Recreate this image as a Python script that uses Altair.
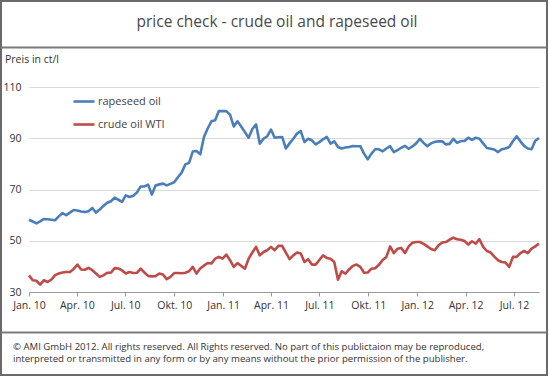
import altair as alt
import pandas as pd

# ---------------- data (weekly) ----------------
start_date = "2010-01-01"
series_names = ["rapeseed oil", "crude oil WTI"]
series_colors = ["#4A7EBB", "#BE4B48"]

rapeseed = [
    58.2, 57.5, 56.8, 57.6, 58.5, 58.4, 58.2, 58.0, 59.5, 60.8,
    60.0, 61.0, 62.0, 61.8, 61.4, 61.2, 61.5, 62.8, 61.0, 62.2,
    63.6, 64.8, 65.4, 66.8, 66.0, 65.2, 67.7, 67.1, 67.6, 68.8,
    71.2, 71.2, 71.9, 68.0, 71.6, 72.0, 72.3, 71.6, 72.2, 72.8,
    74.8, 76.6, 79.8, 80.4, 84.8, 85.0, 83.7, 90.5, 93.8, 96.6,
    97.0, 100.6, 100.6, 100.6, 99.2, 94.6, 96.6, 94.6, 92.4, 90.2,
    93.6, 95.4, 87.9, 89.8, 90.8, 93.4, 90.2, 90.4, 90.5, 86.0,
    88.0, 89.8, 91.8, 92.8, 88.5, 89.8, 89.2, 87.6, 88.5, 89.6,
    90.5, 87.9, 88.8, 86.6, 86.0, 86.4, 86.6, 87.0, 86.9, 86.9,
    84.0, 81.8, 84.0, 85.7, 85.7, 84.9, 86.0, 86.9, 84.6, 85.4,
    86.3, 87.0, 85.9, 86.8, 88.0, 89.8, 88.2, 86.9, 88.0, 88.6,
    88.8, 88.8, 87.6, 87.8, 89.8, 88.2, 88.9, 88.9, 90.2, 89.4,
    90.2, 89.8, 88.0, 86.2, 85.9, 85.6, 84.6, 85.7, 86.0, 86.6,
    88.8, 90.8, 88.8, 87.0, 86.0, 85.7, 89.0, 90.1,
]
crude = [
    36.5, 34.6, 34.4, 32.9, 34.6, 33.9, 34.8, 36.6, 37.2, 37.6,
    37.8, 37.8, 39.0, 40.7, 38.8, 38.7, 39.4, 38.5, 37.2, 35.9,
    36.5, 37.5, 37.5, 39.3, 39.2, 38.4, 37.2, 37.8, 37.4, 37.5,
    39.1, 37.6, 36.3, 36.1, 36.2, 37.2, 36.8, 35.0, 35.9, 37.4,
    37.4, 37.3, 37.5, 38.1, 39.8, 37.2, 39.2, 40.3, 41.3, 41.1,
    43.0, 43.7, 43.0, 44.6, 42.4, 39.8, 41.3, 40.2, 39.1, 43.0,
    45.4, 47.6, 44.3, 45.6, 46.3, 47.6, 46.3, 48.0, 48.0, 45.4,
    42.8, 44.3, 45.4, 45.0, 41.7, 42.8, 40.7, 40.7, 42.5, 44.3,
    43.3, 43.0, 41.7, 34.8, 38.1, 37.2, 38.8, 40.2, 40.7, 39.8,
    37.5, 37.6, 39.1, 39.3, 40.6, 42.5, 43.7, 47.8, 45.2, 46.9,
    47.2, 45.2, 47.8, 49.2, 49.5, 49.5, 48.8, 47.8, 46.8, 46.3,
    48.2, 49.3, 49.5, 50.4, 51.2, 50.6, 50.4, 49.9, 48.5, 49.8,
    48.9, 50.6, 47.6, 46.0, 45.4, 43.8, 42.4, 41.7, 41.5, 39.8,
    43.7, 43.7, 45.2, 46.0, 45.2, 46.9, 47.8, 48.9,
]

y_ticks = [30, 50, 70, 90, 110]
tick_dates = ["2010-01-01", "2010-04-01", "2010-07-01", "2010-10-01",
              "2011-01-01", "2011-04-01", "2011-07-01", "2011-10-01",
              "2012-01-01", "2012-04-01", "2012-07-01"]
tick_labels = ["Jan. 10", "Apr. 10", "Jul. 10", "Okt. 10",
               "Jan. 11", "Apr. 11", "Jul. 11", "Okt. 11",
               "Jan. 12", "Apr. 12", "Jul. 12"]

title_text = "price check - crude oil and rapeseed oil"
unit_text = "Preis in ct/l"
footer_lines = [
    "\u00a9 AMI GmbH 2012.  All rights reserved.  All Rights reserved. No part of this publictaion may be reproduced,",
    "interpreted or transmitted in any form or by any means without  the prior permission of the publisher.",
]

# ---------------- build table ----------------
dates = pd.date_range(start_date, periods=len(rapeseed), freq="7D")
date_str = [d.strftime("%Y-%m-%d") for d in dates]
df = pd.DataFrame({
    "date": date_str * 2,
    "value": rapeseed + crude,
    "series": [series_names[0]] * len(rapeseed) + [series_names[1]] * len(crude),
})


def dt(s):
    y, m, d = (int(p) for p in s.split("-"))
    return alt.DateTime(year=y, month=m, date=d, utc=True)


label_map = ", ".join(f"'{d[:7]}': '{l}'" for d, l in zip(tick_dates, tick_labels))
label_expr = "({" + label_map + "})[utcFormat(datum.value, '%Y-%m')]"

FONT = "Open Sans"
W, H = 510, 205
PL, PT = 29, 87
TOTAL_W, TOTAL_H = 549, 376

lines = alt.Chart(df).mark_line(strokeWidth=2.6, strokeJoin="round").encode(
    x=alt.X("date:T",
            scale=alt.Scale(type="utc", domain=[dt(date_str[0]), dt(date_str[-1])], nice=False),
            axis=alt.Axis(values=[dt(s) for s in tick_dates], labelExpr=label_expr,
                          title=None, grid=False, domainColor="#9a9a9a", tickColor="#9a9a9a",
                          tickSize=4, labelFont=FONT, labelFontSize=10.5, labelColor="#333333",
                          labelPadding=4, labelFlush=False, labelOverlap=False)),
    y=alt.Y("value:Q",
            scale=alt.Scale(domain=[y_ticks[0], y_ticks[-1]], nice=False, zero=False),
            axis=alt.Axis(values=y_ticks, title=None, domain=False, ticks=False, grid=True,
                          gridColor="#d9d9d9", labelFont=FONT, labelFontSize=10.5,
                          labelColor="#333333", labelPadding=8)),
    color=alt.Color("series:N",
                    scale=alt.Scale(domain=series_names, range=series_colors),
                    legend=alt.Legend(orient="none", legendX=43, legendY=2.5, title=None,
                                      symbolType="stroke", symbolSize=441, symbolStrokeWidth=2.6,
                                      labelFont=FONT, labelFontSize=11, labelColor="#444444",
                                      labelOffset=2, rowPadding=5, padding=0)),
    detail="series:N",
)

one = pd.DataFrame({"k": [0]})

frame = alt.Chart(one).mark_rect(fill=None, stroke="#6a6a6a", strokeWidth=2).encode(
    x=alt.value(1 - PL), x2=alt.value(547 - PL),
    y=alt.value(1 - PT), y2=alt.value(375 - PT),
)
sep1 = alt.Chart(one).mark_rule(stroke="#7a7a7a", strokeWidth=2).encode(
    x=alt.value(1 - PL), x2=alt.value(547 - PL), y=alt.value(47.5 - PT),
)
sep2 = alt.Chart(one).mark_rule(stroke="#7a7a7a", strokeWidth=2).encode(
    x=alt.value(1 - PL), x2=alt.value(547 - PL), y=alt.value(332.5 - PT),
)
title = alt.Chart(one).mark_text(font=FONT, fontSize=15.5, color="#4a4a4a",
                                 align="center", baseline="middle").encode(
    x=alt.value(277 - PL), y=alt.value(22 - PT), text=alt.value(title_text),
)
unit = alt.Chart(one).mark_text(font=FONT, fontSize=10.5, color="#333333",
                                align="left", baseline="middle").encode(
    x=alt.value(5 - PL), y=alt.value(60 - PT), text=alt.value(unit_text),
)
footer = alt.Chart(one).mark_text(font=FONT, fontSize=9.6, color="#333333",
                                  align="left", baseline="middle", lineHeight=12.5).encode(
    x=alt.value(13 - PL), y=alt.value(346.5 - PT), text=alt.value(footer_lines),
)

chart = alt.layer(lines, frame, sep1, sep2, title, unit, footer).properties(
    width=W, height=H,
    autosize=alt.AutoSizeParams(type="none"),
    padding={"left": PL, "top": PT, "right": TOTAL_W - PL - W, "bottom": TOTAL_H - PT - H},
    background="white",
).configure_view(stroke=None)

chart.save("out.html", embed_options={"renderer": "svg", "actions": False})
